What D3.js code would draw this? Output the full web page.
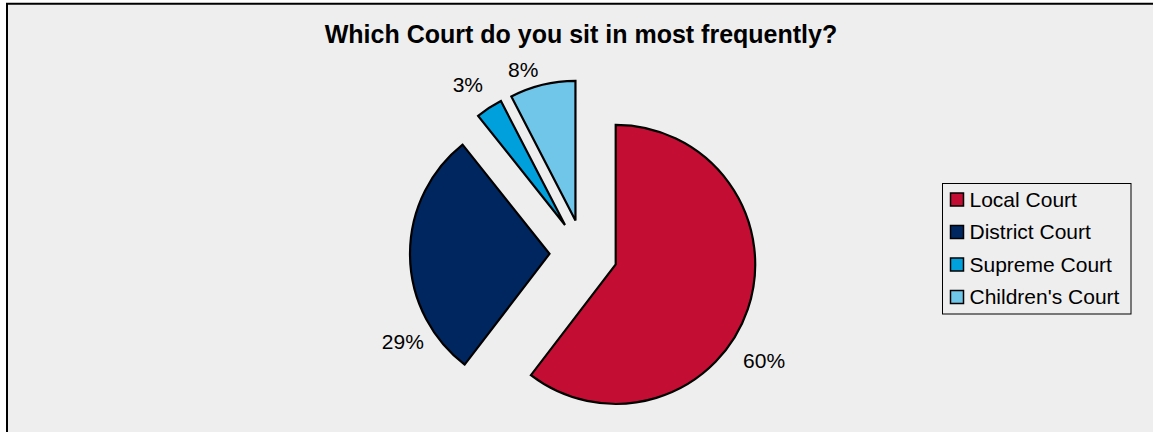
<!DOCTYPE html>
<html>
<head>
<meta charset="utf-8">
<script src="https://cdn.jsdelivr.net/npm/d3@7"></script>
<style>
  html, body { margin: 0; padding: 0; background: #ffffff; }
  svg { display: block; font-family: "Liberation Sans", Arial, sans-serif; }
</style>
</head>
<body>
<svg id="chart" width="1153" height="432"></svg>
<script>
// ---- data ----
const title = "Which Court do you sit in most frequently?";
const categories = ["Local Court", "District Court", "Supreme Court", "Children's Court"];
const values = [60.4, 28.9, 3.1, 7.6];
const colors = ["#C40D32", "#002660", "#00A0DC", "#70C6E9"];

// ---- layout (not data) ----
const W = 1153, H = 432;
const cx = 583.5, cy = 253.5, R = 139.5, explode = 34;
// label placement tweaks (degrees shift from slice mid angle, distance from exploded centre)
const labelTweak = [
  { shift: 14.3, dist: 177 },
  { shift: -30.4, dist: 171 },
  { shift: -1.8, dist: 170.5 },
  { shift: -5.4, dist: 160 }
];

const svg = d3.select("#chart");

// chart area
svg.append("rect")
  .attr("x", 7).attr("y", 3.75)
  .attr("width", W + 20).attr("height", H + 20)
  .attr("fill", "#eeeeee")
  .attr("stroke", "#000").attr("stroke-width", 2);

// title
svg.append("text")
  .attr("x", 581).attr("y", 43)
  .attr("text-anchor", "middle")
  .attr("font-size", 25).attr("font-weight", "bold")
  .attr("fill", "#000")
  .text(title);

const total = d3.sum(values);
const pie = d3.pie().sort(null).value(d => d).startAngle(0).endAngle(2 * Math.PI);
const arcs = pie(values);
const arc = d3.arc().innerRadius(0).outerRadius(R);

const g = svg.append("g").attr("transform", `translate(${cx},${cy})`);

const slices = g.selectAll("g.slice")
  .data(arcs)
  .join("g")
  .attr("class", "slice")
  .attr("transform", d => {
    const mid = (d.startAngle + d.endAngle) / 2;
    return `translate(${explode * Math.sin(mid)},${-explode * Math.cos(mid)})`;
  });

slices.append("path")
  .attr("d", arc)
  .attr("fill", (d, i) => colors[i])
  .attr("stroke", "#000")
  .attr("stroke-width", 2.2)
  .attr("stroke-linejoin", "miter");

slices.append("text")
  .attr("transform", (d, i) => {
    const mid = (d.startAngle + d.endAngle) / 2 + labelTweak[i].shift * Math.PI / 180;
    const r = labelTweak[i].dist;
    return `translate(${r * Math.sin(mid)},${-r * Math.cos(mid)})`;
  })
  .attr("text-anchor", "middle")
  .attr("dy", "0.35em")
  .attr("font-size", 21)
  .attr("fill", "#000")
  .text(d => Math.round(d.value / total * 100) + "%");

// legend
const lx = 942.5, ly = 183.5, lw = 188.5, lh = 130.5;
const legend = svg.append("g");
legend.append("rect")
  .attr("x", lx).attr("y", ly).attr("width", lw).attr("height", lh)
  .attr("fill", "#eeeeee").attr("stroke", "#000").attr("stroke-width", 1);

const rowY = d3.scalePoint().domain(categories).range([199.5, 297]);
const items = legend.selectAll("g.item")
  .data(categories)
  .join("g")
  .attr("class", "item")
  .attr("transform", d => `translate(0,${rowY(d)})`);

items.append("rect")
  .attr("x", 950.5).attr("y", -6.5)
  .attr("width", 13).attr("height", 13)
  .attr("fill", (d, i) => colors[i])
  .attr("stroke", "#000").attr("stroke-width", 1.5);

items.append("text")
  .attr("x", 969.5)
  .attr("dy", "0.35em")
  .attr("font-size", 21)
  .attr("fill", "#000")
  .text(d => d);
</script>
</body>
</html>
